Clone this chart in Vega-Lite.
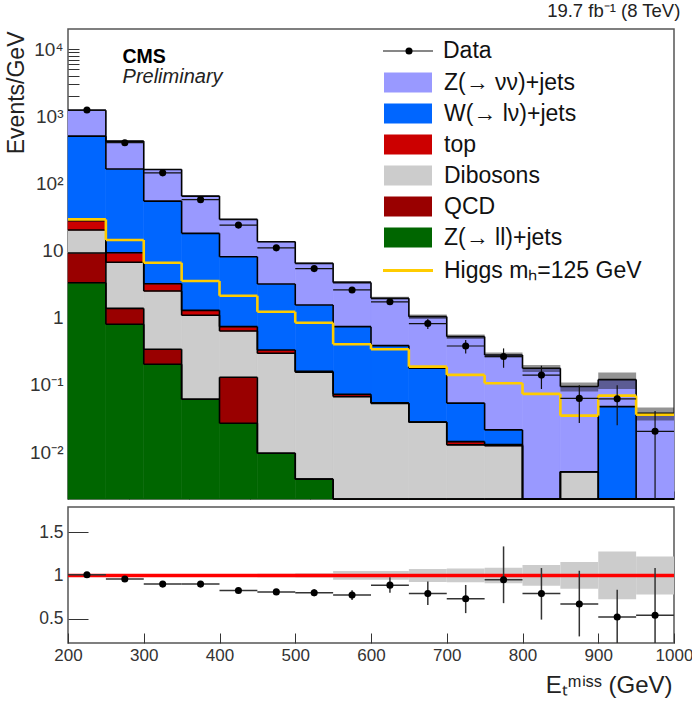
{
  "$schema": "https://vega.github.io/schema/vega-lite/v6.json",
  "background": "white",
  "padding": {"left": 4, "top": 0, "right": 0, "bottom": 2},
  "spacing": 5,
  "config": {
    "font": "Liberation Sans",
    "concat": {"spacing": 5},
    "view": {"stroke": "#555", "strokeWidth": 1.5},
    "axis": {"grid": false, "domain": false, "tickColor": "#333", "tickWidth": 1, "labelColor": "#333", "labelFont": "Liberation Sans", "titleFont": "Liberation Sans", "titleFontWeight": "normal", "titleColor": "#222", "labelOverlap": false, "minExtent": 0}
  },
  "datasets": {
    "mc": [
      {"lo":200,"hi":250,"proc":"Z(→ ll)+jets","k":1,"v":3.33},
      {"lo":200,"hi":250,"proc":"QCD","k":2,"v":5.87},
      {"lo":200,"hi":250,"proc":"Dibosons","k":3,"v":11.1},
      {"lo":200,"hi":250,"proc":"top","k":4,"v":7.6},
      {"lo":200,"hi":250,"proc":"W(→ lν)+jets","k":5,"v":479},
      {"lo":200,"hi":250,"proc":"Z(→ νν)+jets","k":6,"v":729},
      {"lo":250,"hi":300,"proc":"Z(→ ll)+jets","k":1,"v":0.80},
      {"lo":250,"hi":300,"proc":"QCD","k":2,"v":0.58},
      {"lo":250,"hi":300,"proc":"Dibosons","k":3,"v":5.32},
      {"lo":250,"hi":300,"proc":"top","k":4,"v":2.6},
      {"lo":250,"hi":300,"proc":"W(→ lν)+jets","k":5,"v":154.7},
      {"lo":250,"hi":300,"proc":"Z(→ νν)+jets","k":6,"v":264},
      {"lo":300,"hi":350,"proc":"Z(→ ll)+jets","k":1,"v":0.203},
      {"lo":300,"hi":350,"proc":"QCD","k":2,"v":0.137},
      {"lo":300,"hi":350,"proc":"Dibosons","k":3,"v":2.16},
      {"lo":300,"hi":350,"proc":"top","k":4,"v":0.72},
      {"lo":300,"hi":350,"proc":"W(→ lν)+jets","k":5,"v":51.5},
      {"lo":300,"hi":350,"proc":"Z(→ νν)+jets","k":6,"v":107.3},
      {"lo":350,"hi":400,"proc":"Z(→ ll)+jets","k":1,"v":0.0612},
      {"lo":350,"hi":400,"proc":"QCD","k":2,"v":0},
      {"lo":350,"hi":400,"proc":"Dibosons","k":3,"v":1.03},
      {"lo":350,"hi":400,"proc":"top","k":4,"v":0.20},
      {"lo":350,"hi":400,"proc":"W(→ lν)+jets","k":5,"v":16.8},
      {"lo":350,"hi":400,"proc":"Z(→ νν)+jets","k":6,"v":46.8},
      {"lo":400,"hi":450,"proc":"Z(→ ll)+jets","k":1,"v":0.0269},
      {"lo":400,"hi":450,"proc":"QCD","k":2,"v":0.103},
      {"lo":400,"hi":450,"proc":"Dibosons","k":3,"v":0.507},
      {"lo":400,"hi":450,"proc":"top","k":4,"v":0.101},
      {"lo":400,"hi":450,"proc":"W(→ lν)+jets","k":5,"v":7.36},
      {"lo":400,"hi":450,"proc":"Z(→ νν)+jets","k":6,"v":21.1},
      {"lo":450,"hi":500,"proc":"Z(→ ll)+jets","k":1,"v":0.0096},
      {"lo":450,"hi":500,"proc":"QCD","k":2,"v":0},
      {"lo":450,"hi":500,"proc":"Dibosons","k":3,"v":0.286},
      {"lo":450,"hi":500,"proc":"top","k":4,"v":0.036},
      {"lo":450,"hi":500,"proc":"W(→ lν)+jets","k":5,"v":2.85},
      {"lo":450,"hi":500,"proc":"Z(→ νν)+jets","k":6,"v":10.4},
      {"lo":500,"hi":550,"proc":"Z(→ ll)+jets","k":1,"v":0.00395},
      {"lo":500,"hi":550,"proc":"QCD","k":2,"v":0},
      {"lo":500,"hi":550,"proc":"Dibosons","k":3,"v":0.151},
      {"lo":500,"hi":550,"proc":"top","k":4,"v":0.004},
      {"lo":500,"hi":550,"proc":"W(→ lν)+jets","k":5,"v":1.39},
      {"lo":500,"hi":550,"proc":"Z(→ νν)+jets","k":6,"v":4.92},
      {"lo":550,"hi":600,"proc":"Z(→ ll)+jets","k":1,"v":0},
      {"lo":550,"hi":600,"proc":"QCD","k":2,"v":0},
      {"lo":550,"hi":600,"proc":"Dibosons","k":3,"v":0.067},
      {"lo":550,"hi":600,"proc":"top","k":4,"v":0.0058},
      {"lo":550,"hi":600,"proc":"W(→ lν)+jets","k":5,"v":0.665},
      {"lo":550,"hi":600,"proc":"Z(→ νν)+jets","k":6,"v":2.63},
      {"lo":600,"hi":650,"proc":"Z(→ ll)+jets","k":1,"v":0},
      {"lo":600,"hi":650,"proc":"QCD","k":2,"v":0},
      {"lo":600,"hi":650,"proc":"Dibosons","k":3,"v":0.053},
      {"lo":600,"hi":650,"proc":"top","k":4,"v":0.001},
      {"lo":600,"hi":650,"proc":"W(→ lν)+jets","k":5,"v":0.331},
      {"lo":600,"hi":650,"proc":"Z(→ νν)+jets","k":6,"v":1.565},
      {"lo":650,"hi":700,"proc":"Z(→ ll)+jets","k":1,"v":0},
      {"lo":650,"hi":700,"proc":"QCD","k":2,"v":0},
      {"lo":650,"hi":700,"proc":"Dibosons","k":3,"v":0.0279},
      {"lo":650,"hi":700,"proc":"top","k":4,"v":0},
      {"lo":650,"hi":700,"proc":"W(→ lν)+jets","k":5,"v":0.149},
      {"lo":650,"hi":700,"proc":"Z(→ νν)+jets","k":6,"v":0.863},
      {"lo":700,"hi":750,"proc":"Z(→ ll)+jets","k":1,"v":0},
      {"lo":700,"hi":750,"proc":"QCD","k":2,"v":0},
      {"lo":700,"hi":750,"proc":"Dibosons","k":3,"v":0.0128},
      {"lo":700,"hi":750,"proc":"top","k":4,"v":0.0015},
      {"lo":700,"hi":750,"proc":"W(→ lν)+jets","k":5,"v":0.0392},
      {"lo":700,"hi":750,"proc":"Z(→ νν)+jets","k":6,"v":0.4705},
      {"lo":750,"hi":800,"proc":"Z(→ ll)+jets","k":1,"v":0},
      {"lo":750,"hi":800,"proc":"QCD","k":2,"v":0},
      {"lo":750,"hi":800,"proc":"Dibosons","k":3,"v":0.0124},
      {"lo":750,"hi":800,"proc":"top","k":4,"v":0.0005},
      {"lo":750,"hi":800,"proc":"W(→ lν)+jets","k":5,"v":0.0085},
      {"lo":750,"hi":800,"proc":"Z(→ νν)+jets","k":6,"v":0.2576},
      {"lo":800,"hi":850,"proc":"Z(→ ll)+jets","k":1,"v":0},
      {"lo":800,"hi":850,"proc":"QCD","k":2,"v":0},
      {"lo":800,"hi":850,"proc":"Dibosons","k":3,"v":0},
      {"lo":800,"hi":850,"proc":"top","k":4,"v":0},
      {"lo":800,"hi":850,"proc":"W(→ lν)+jets","k":5,"v":0},
      {"lo":800,"hi":850,"proc":"Z(→ νν)+jets","k":6,"v":0.177},
      {"lo":850,"hi":900,"proc":"Z(→ ll)+jets","k":1,"v":0},
      {"lo":850,"hi":900,"proc":"QCD","k":2,"v":0},
      {"lo":850,"hi":900,"proc":"Dibosons","k":3,"v":0.0051},
      {"lo":850,"hi":900,"proc":"top","k":4,"v":0},
      {"lo":850,"hi":900,"proc":"W(→ lν)+jets","k":5,"v":0},
      {"lo":850,"hi":900,"proc":"Z(→ νν)+jets","k":6,"v":0.0895},
      {"lo":900,"hi":950,"proc":"Z(→ ll)+jets","k":1,"v":0},
      {"lo":900,"hi":950,"proc":"QCD","k":2,"v":0},
      {"lo":900,"hi":950,"proc":"Dibosons","k":3,"v":0},
      {"lo":900,"hi":950,"proc":"top","k":4,"v":0},
      {"lo":900,"hi":950,"proc":"W(→ lν)+jets","k":5,"v":0.0475},
      {"lo":900,"hi":950,"proc":"Z(→ νν)+jets","k":6,"v":0.0725},
      {"lo":950,"hi":1000,"proc":"Z(→ ll)+jets","k":1,"v":0},
      {"lo":950,"hi":1000,"proc":"QCD","k":2,"v":0},
      {"lo":950,"hi":1000,"proc":"Dibosons","k":3,"v":0},
      {"lo":950,"hi":1000,"proc":"top","k":4,"v":0},
      {"lo":950,"hi":1000,"proc":"W(→ lν)+jets","k":5,"v":0},
      {"lo":950,"hi":1000,"proc":"Z(→ νν)+jets","k":6,"v":0.0378}
    ],
    "higgs": [
      {"lo":200,"hi":250,"v":29.2},{"lo":250,"hi":300,"v":14.4},{"lo":300,"hi":350,"v":6.6},{"lo":350,"hi":400,"v":3.53},
      {"lo":400,"hi":450,"v":2.13},{"lo":450,"hi":500,"v":1.23},{"lo":500,"hi":550,"v":0.845},{"lo":550,"hi":600,"v":0.403},
      {"lo":600,"hi":650,"v":0.340},{"lo":650,"hi":700,"v":0.187},{"lo":700,"hi":750,"v":0.141},{"lo":750,"hi":800,"v":0.106},
      {"lo":800,"hi":850,"v":0.0735},{"lo":850,"hi":900,"v":0.0349},{"lo":900,"hi":950,"v":0.0694},{"lo":950,"hi":1000,"v":0.036}
    ],
    "obs": [
      {"lo":200,"hi":250,"c":225,"n":1240,"nlo":1225,"nhi":1255,"r":1.008,"rlo":1.0,"rhi":1.016},
      {"lo":250,"hi":300,"c":275,"n":405,"nlo":398,"nhi":412,"r":0.958,"rlo":0.948,"rhi":0.968},
      {"lo":300,"hi":350,"c":325,"n":144,"nlo":140,"nhi":148,"r":0.90,"rlo":0.888,"rhi":0.912},
      {"lo":350,"hi":400,"c":375,"n":57.5,"nlo":55.5,"nhi":59.5,"r":0.90,"rlo":0.88,"rhi":0.92},
      {"lo":400,"hi":450,"c":425,"n":24.0,"nlo":23.0,"nhi":25.0,"r":0.827,"rlo":0.80,"rhi":0.85},
      {"lo":450,"hi":500,"c":475,"n":11.0,"nlo":10.4,"nhi":11.6,"r":0.81,"rlo":0.78,"rhi":0.84},
      {"lo":500,"hi":550,"c":525,"n":5.4,"nlo":5.0,"nhi":5.8,"r":0.80,"rlo":0.76,"rhi":0.84},
      {"lo":550,"hi":600,"c":575,"n":2.6,"nlo":2.4,"nhi":2.8,"r":0.773,"rlo":0.715,"rhi":0.83},
      {"lo":600,"hi":650,"c":625,"n":1.73,"nlo":1.55,"nhi":1.91,"r":0.888,"rlo":0.80,"rhi":0.98},
      {"lo":650,"hi":700,"c":675,"n":0.82,"nlo":0.68,"nhi":0.96,"r":0.79,"rlo":0.66,"rhi":0.93},
      {"lo":700,"hi":750,"c":725,"n":0.38,"nlo":0.294,"nhi":0.466,"r":0.73,"rlo":0.565,"rhi":0.89},
      {"lo":750,"hi":800,"c":775,"n":0.265,"nlo":0.18,"nhi":0.35,"r":0.95,"rlo":0.68,"rhi":1.335},
      {"lo":800,"hi":850,"c":825,"n":0.14,"nlo":0.087,"nhi":0.193,"r":0.79,"rlo":0.49,"rhi":1.085},
      {"lo":850,"hi":900,"c":875,"n":0.063,"nlo":0.027,"nhi":0.099,"r":0.67,"rlo":0.296,"rhi":1.054},
      {"lo":900,"hi":950,"c":925,"n":0.062,"nlo":0.025,"nhi":0.099,"r":0.52,"rlo":0.205,"rhi":0.835},
      {"lo":950,"hi":1000,"c":975,"n":0.0204,"nlo":0.001,"nhi":0.041,"r":0.54,"rlo":0.1,"rhi":1.085}
    ],
    "unc": [
      {"lo":200,"hi":250,"tlo":1224,"thi":1248,"blo":0.99,"bhi":1.01},
      {"lo":250,"hi":300,"tlo":424,"thi":432,"blo":0.99,"bhi":1.01},
      {"lo":300,"hi":350,"tlo":160.4,"thi":163.6,"blo":0.99,"bhi":1.01},
      {"lo":350,"hi":400,"tlo":64.0,"thi":65.8,"blo":0.986,"bhi":1.014},
      {"lo":400,"hi":450,"tlo":28.8,"thi":29.6,"blo":0.986,"bhi":1.014},
      {"lo":450,"hi":500,"tlo":13.3,"thi":13.9,"blo":0.98,"bhi":1.02},
      {"lo":500,"hi":550,"tlo":6.31,"thi":6.63,"blo":0.975,"bhi":1.025},
      {"lo":550,"hi":600,"tlo":3.20,"thi":3.54,"blo":0.95,"bhi":1.05},
      {"lo":600,"hi":650,"tlo":1.85,"thi":2.05,"blo":0.95,"bhi":1.05},
      {"lo":650,"hi":700,"tlo":0.962,"thi":1.118,"blo":0.925,"bhi":1.075},
      {"lo":700,"hi":750,"tlo":0.482,"thi":0.566,"blo":0.92,"bhi":1.08},
      {"lo":750,"hi":800,"tlo":0.254,"thi":0.304,"blo":0.91,"bhi":1.09},
      {"lo":800,"hi":850,"tlo":0.156,"thi":0.198,"blo":0.88,"bhi":1.12},
      {"lo":850,"hi":900,"tlo":0.080,"thi":0.109,"blo":0.845,"bhi":1.155},
      {"lo":900,"hi":950,"tlo":0.087,"thi":0.153,"blo":0.725,"bhi":1.275},
      {"lo":950,"hi":1000,"tlo":0.0295,"thi":0.0461,"blo":0.78,"bhi":1.22}
    ]
  },
  "vconcat": [
    {
      "width": 606,
      "height": 470,
      "title": {"text": "19.7 fb⁻¹ (8 TeV)", "anchor": "end", "fontSize": 18.5, "fontWeight": "normal", "font": "Liberation Sans", "color": "#222", "offset": 9, "dx": 5},
      "resolve": {"scale": {"stroke": "independent"}, "legend": {"stroke": "independent"}},
      "layer": [
        {
          "data": {"name": "mc"},
          "transform": [{"stack": "v", "groupby": ["lo"], "sort": [{"field": "k", "order": "ascending"}], "as": ["y0", "y1"]}],
          "mark": {"type": "rect", "strokeWidth": 0.6},
          "encoding": {
            "x": {"field": "lo", "type": "quantitative", "scale": {"domain": [200, 1000], "nice": false, "zero": false},
              "axis": {"title": null, "labels": false, "minExtent": 0, "values": [200,220,240,260,280,300,320,340,360,380,400,420,440,460,480,500,520,540,560,580,600,620,640,660,680,700,720,740,760,780,800,820,840,860,880,900,920,940,960,980,1000],
                "tickSize": -8}},
            "x2": {"field": "hi"},
            "y": {"field": "y1", "type": "quantitative",
              "scale": {"type": "log", "domain": [0.002, 20000], "clamp": true, "nice": false},
              "axis": {"title": "Events/GeV", "titleFontSize": 23, "titleX": -45, "titleY": 2, "titleAlign": "right", "titleBaseline": "alphabetic", "titleAngle": 270,
                "values": [0.003,0.004,0.005,0.006,0.007,0.008,0.009,0.01,0.02,0.03,0.04,0.05,0.06,0.07,0.08,0.09,0.1,0.2,0.3,0.4,0.5,0.6,0.7,0.8,0.9,1,2,3,4,5,6,7,8,9,10,20,30,40,50,60,70,80,90,100,200,300,400,500,600,700,800,900,1000,2000,3000,4000,5000,6000,7000,8000,9000,10000],
                "labelExpr": "datum.value == 10000 ? '10⁴' : datum.value == 1000 ? '10³' : datum.value == 100 ? '10²' : datum.value == 10 ? '10' : datum.value == 1 ? '1' : datum.value == 0.1 ? '10⁻¹' : datum.value == 0.01 ? '10⁻²' : ''",
                "labelOverlap": false, "labelFontSize": 19, "labelPadding": 16,
                "tickSize": -11}},
            "y2": {"field": "y0"},
            "color": {"field": "proc", "type": "nominal", "legend": null,
              "scale": {"domain": ["Z(→ νν)+jets", "W(→ lν)+jets", "top", "Dibosons", "QCD", "Z(→ ll)+jets"],
                        "range": ["#9999ff", "#0066ff", "#cc0000", "#cccccc", "#990000", "#006600"]}},
            "stroke": {"field": "proc", "type": "nominal",
              "scale": {"domain": ["Z(→ νν)+jets", "W(→ lν)+jets", "top", "Dibosons", "QCD", "Z(→ ll)+jets"],
                        "range": ["#9999ff", "#0066ff", "#cc0000", "#cccccc", "#990000", "#006600"]},
              "legend": {"title": null, "orient": "none", "legendX": 306, "legendY": 41.5, "zindex": 3,
                "symbolType": "stroke", "symbolSize": 2304, "symbolStrokeWidth": 20, "clipHeight": 24,
                "labelFontSize": 23, "labelColor": "#111", "labelFont": "Liberation Sans", "labelOffset": 2, "rowPadding": 7, "labelLimit": 400}}
          }
        },
        {
          "data": {"name": "mc"},
          "transform": [{"stack": "v", "groupby": ["lo"], "sort": [{"field": "k", "order": "ascending"}], "as": ["y0", "y1"]}],
          "mark": {"type": "rule", "color": "black", "strokeWidth": 1.6},
          "encoding": {"x": {"field": "lo", "type": "quantitative"}, "x2": {"field": "hi"}, "y": {"field": "y1", "type": "quantitative"}}
        },
        {
          "data": {"name": "mc"},
          "transform": [
            {"stack": "v", "groupby": ["lo"], "sort": [{"field": "k", "order": "ascending"}], "as": ["y0", "y1"]},
            {"window": [{"op": "lead", "field": "y1", "as": "ny"}], "groupby": ["proc"], "sort": [{"field": "lo", "order": "ascending"}]},
            {"filter": "datum.ny != null"}
          ],
          "mark": {"type": "rule", "color": "black", "strokeWidth": 1.6},
          "encoding": {"x": {"field": "hi", "type": "quantitative"}, "y": {"field": "y1", "type": "quantitative"}, "y2": {"field": "ny"}}
        },
        {
          "data": {"name": "unc"},
          "mark": {"type": "rect", "color": "#111", "opacity": 0.45},
          "encoding": {"x": {"field": "lo", "type": "quantitative"}, "x2": {"field": "hi"}, "y": {"field": "tlo", "type": "quantitative"}, "y2": {"field": "thi"}}
        },
        {
          "data": {"name": "higgs"},
          "mark": {"type": "rule", "strokeWidth": 2.6},
          "encoding": {"x": {"field": "lo", "type": "quantitative"}, "x2": {"field": "hi"}, "y": {"field": "v", "type": "quantitative"},
            "stroke": {"datum": "Higgs mₕ=125 GeV", "type": "nominal", "scale": {"domain": ["Higgs mₕ=125 GeV"], "range": ["#ffcc00"]},
              "legend": {"title": null, "orient": "none", "legendX": 313.5, "legendY": 229.5, "zindex": 2,
                "symbolType": "stroke", "symbolSize": 2500, "symbolStrokeWidth": 3, "clipHeight": 24,
                "labelFontSize": 23, "labelColor": "#111", "labelFont": "Liberation Sans", "labelOffset": 9.5, "labelLimit": 400}}
          }
        },
        {
          "data": {"name": "higgs"},
          "transform": [
            {"window": [{"op": "lead", "field": "v", "as": "nv"}], "sort": [{"field": "lo", "order": "ascending"}]},
            {"filter": "datum.nv != null"}
          ],
          "mark": {"type": "rule", "color": "#ffcc00", "strokeWidth": 2.6},
          "encoding": {"x": {"field": "hi", "type": "quantitative"}, "y": {"field": "v", "type": "quantitative"}, "y2": {"field": "nv"}}
        },
        {
          "data": {"name": "obs"},
          "mark": {"type": "rule", "strokeWidth": 1.2},
          "encoding": {"x": {"field": "lo", "type": "quantitative"}, "x2": {"field": "hi"}, "y": {"field": "n", "type": "quantitative"},
            "stroke": {"datum": "Data ", "type": "nominal", "scale": {"domain": ["Data "], "range": ["#111111"]},
              "legend": {"title": null, "orient": "none", "legendX": 314, "legendY": 10, "zindex": 2,
                "symbolType": "stroke", "symbolSize": 2500, "symbolStrokeWidth": 1.2, "clipHeight": 24,
                "labelFontSize": 23, "labelExpr": "''", "labelLimit": 400}}
          }
        },
        {
          "data": {"name": "obs"},
          "mark": {"type": "rule", "color": "#111", "strokeWidth": 1.2},
          "encoding": {"x": {"field": "c", "type": "quantitative"}, "y": {"field": "nlo", "type": "quantitative"}, "y2": {"field": "nhi"}}
        },
        {
          "data": {"name": "obs"},
          "mark": {"type": "point", "filled": true, "color": "black", "opacity": 1, "size": 50},
          "encoding": {"x": {"field": "c", "type": "quantitative"}, "y": {"field": "n", "type": "quantitative"},
            "shape": {"datum": "Data", "type": "nominal", "scale": {"domain": ["Data"], "range": ["circle"]},
              "legend": {"title": null, "orient": "none", "legendX": 329.5, "legendY": 10, "zindex": 3,
                "symbolType": "circle", "symbolSize": 50, "symbolFillColor": "black", "symbolStrokeColor": "black", "clipHeight": 24,
                "labelFontSize": 23, "labelColor": "#111", "labelFont": "Liberation Sans", "labelOffset": 22.5, "labelLimit": 400}}
          }
        },
        {
          "data": {"values": [{}]},
          "mark": {"type": "text", "text": "CMS", "font": "Liberation Sans", "fontWeight": "bold", "fontSize": 19.5, "align": "left", "baseline": "alphabetic", "color": "black"},
          "encoding": {"x": {"datum": 272}, "y": {"datum": 6340}}
        },
        {
          "data": {"values": [{}]},
          "mark": {"type": "text", "text": "Preliminary", "font": "Liberation Sans", "fontStyle": "italic", "fontSize": 20, "align": "left", "baseline": "alphabetic", "color": "#222"},
          "encoding": {"x": {"datum": 272}, "y": {"datum": 3090}}
        }
      ]
    },
    {
      "width": 606,
      "height": 136,
      "layer": [
        {
          "data": {"name": "unc"},
          "mark": {"type": "rect", "color": "#cccccc"},
          "encoding": {
            "x": {"field": "lo", "type": "quantitative", "scale": {"domain": [200, 1000], "nice": false, "zero": false},
              "axis": {"title": "Eₜᵐⁱˢˢ (GeV)", "titleFontSize": 24, "titleX": 604, "titleY": 49, "titleAlign": "right", "titleBaseline": "alphabetic", "titleAnchor": "end",
                "values": [200, 300, 400, 500, 600, 700, 800, 900, 1000], "format": "d",
                "labelFlush": false, "labelOverlap": false, "labelFontSize": 17, "labelPadding": 14,
                "tickSize": -10}},
            "x2": {"field": "hi"},
            "y": {"field": "blo", "type": "quantitative", "scale": {"domain": [0.22, 1.79], "clamp": true, "nice": false, "zero": false},
              "axis": {"title": null, "values": [0.5, 1, 1.5], "format": ".2~f", "labelFontSize": 17.5, "labelPadding": 25, "tickSize": -20}},
            "y2": {"field": "bhi"}
          }
        },
        {
          "data": {"values": [{}]},
          "mark": {"type": "rule", "color": "#ff0000", "strokeWidth": 3.5},
          "encoding": {"y": {"datum": 1}}
        },
        {
          "data": {"name": "obs"},
          "mark": {"type": "rule", "color": "#333", "strokeWidth": 1.5},
          "encoding": {"x": {"field": "lo", "type": "quantitative"}, "x2": {"field": "hi"}, "y": {"field": "r", "type": "quantitative"}}
        },
        {
          "data": {"name": "obs"},
          "mark": {"type": "rule", "color": "#333", "strokeWidth": 1.5},
          "encoding": {"x": {"field": "c", "type": "quantitative"}, "y": {"field": "rlo", "type": "quantitative"}, "y2": {"field": "rhi"}}
        },
        {
          "data": {"name": "obs"},
          "mark": {"type": "point", "filled": true, "color": "black", "opacity": 1, "size": 50},
          "encoding": {"x": {"field": "c", "type": "quantitative"}, "y": {"field": "r", "type": "quantitative"}}
        }
      ]
    }
  ]
}
